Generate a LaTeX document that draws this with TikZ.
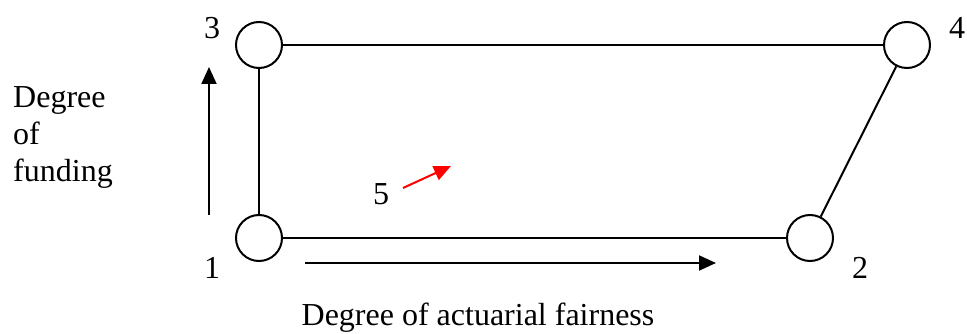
\documentclass[tikz,border=0pt]{standalone}
\usepackage{fontspec}
\setmainfont{Liberation Serif}
\usetikzlibrary{arrows.meta}
\begin{document}
\begin{tikzpicture}[x=1pt,y=-1pt,
  state/.style={circle,draw,line width=2pt,minimum size=46pt,inner sep=0pt},
  edge/.style={line width=2pt},
  lab/.style={font=\fontsize{32}{37}\selectfont,inner sep=0pt},
  axis/.style={line width=2pt,-{Triangle[length=17pt,width=15pt]}}]
\useasboundingbox (0,0) rectangle (967,334);
\node[state] (n3) at (259,45) {};
\node[state] (n4) at (907,45) {};
\node[state] (n1) at (259,238) {};
\node[state] (n2) at (810,238) {};
\draw[edge] (n3) -- (n4);
\draw[edge] (n3) -- (n1);
\draw[edge] (n1) -- (n2);
\draw[edge] (n2) -- (n4);
\node[lab] (l3) at (212,28) {3};
\node[lab] (l4) at (957,28) {4};
\node[lab] (l1) at (212,268) {1};
\node[lab] (l2) at (860,268) {2};
\node[lab] (l5) at (381,194) {5};
\coordinate (ua) at (209,215);
\coordinate (ub) at (209,67);
\draw[axis] (ua) -- (ub);
\coordinate (ra) at (305,263);
\coordinate (rb) at (716,263);
\draw[axis] (ra) -- (rb);
\coordinate (sa) at (403,188);
\coordinate (sb) at (451,166);
\draw[red,line width=2pt,-{Triangle[length=17pt,width=15pt]}] (sa) -- (sb);
\node[lab,anchor=west,align=left] (yl) at (13,137) {Degree\\of\\funding};
\node[lab] (xl) at (478,318) {Degree of actuarial fairness};
\end{tikzpicture}
\end{document}
